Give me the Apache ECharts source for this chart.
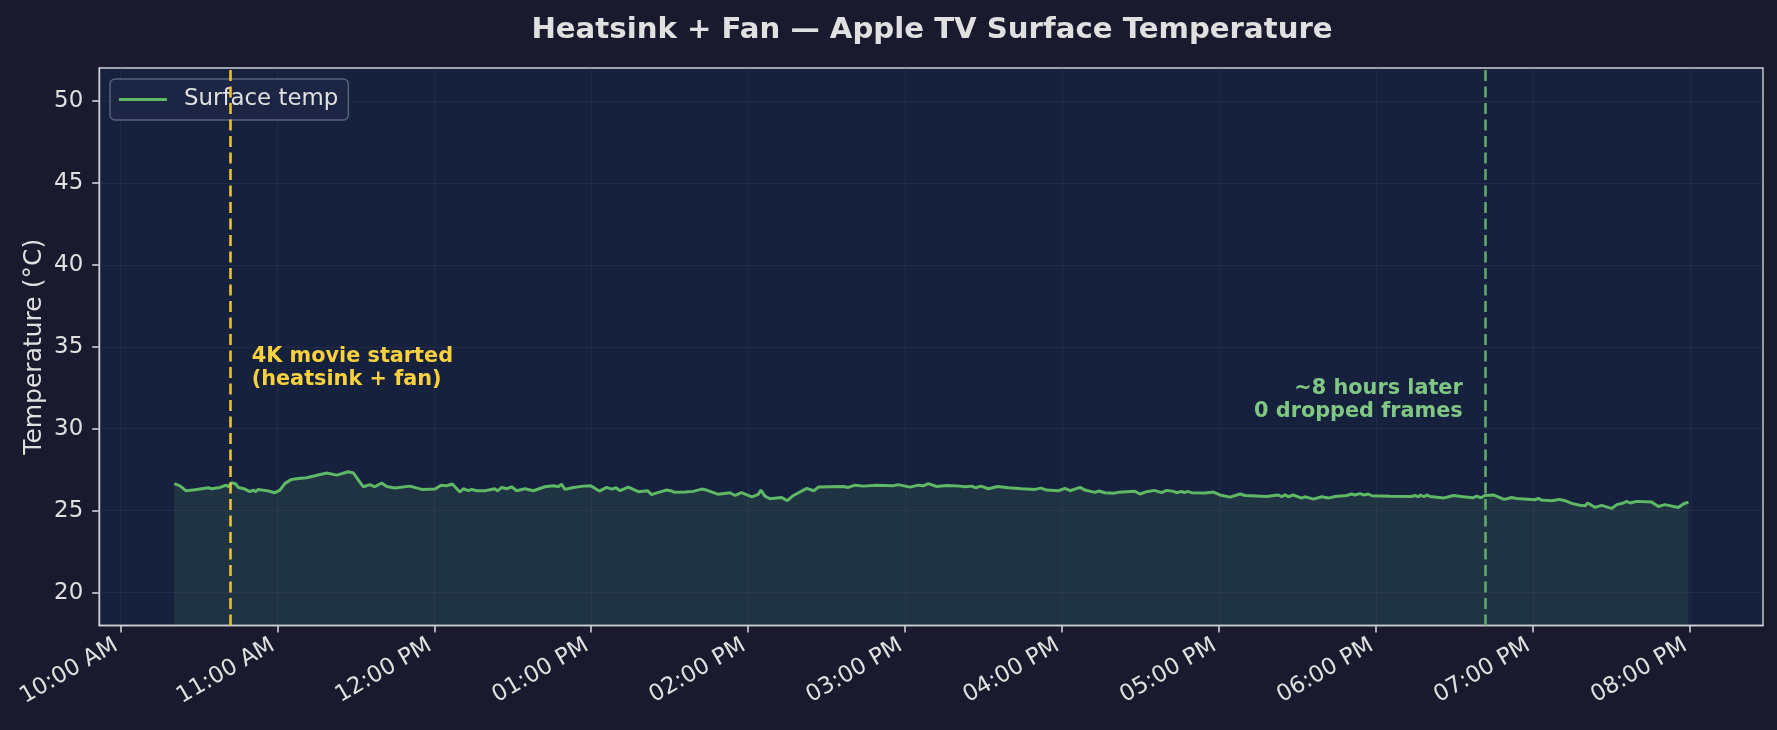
<!DOCTYPE html>
<html>
<head>
<meta charset="utf-8">
<script src="https://cdn.jsdelivr.net/npm/echarts@6/dist/echarts.min.js"></script>
<style>
html,body{margin:0;padding:0;background:#1a1a2e;}
#chart{width:1777px;height:730px;}
</style>
</head>
<body>
<div id="chart"></div>
<script>
// Minutes after 10:00 AM
const sampleMinutes = [
20.6,22.8,25.0,28.5,33.6,34.9,38.1,40.4,41.3,42.5,44.1,45.1,47.6,49.5,50.8,51.7,52.7,54.0,56.6,59.1,
61.0,62.9,65.5,68.0,71.2,74.4,78.9,82.7,87.1,89.1,91.0,92.9,95.4,97.3,99.9,101.8,105.0,110.7,115.2,120.3,
122.6,124.7,126.9,129.8,131.1,133.0,134.3,136.2,139.4,143.2,144.1,145.8,147.7,149.6,151.5,154.7,157.9,162.3,165.5,167.4,
168.7,170.0,173.2,177.0,179.8,183.1,185.9,187.8,189.5,191.0,194.2,198.0,201.5,203.1,205.7,208.9,210.8,212.0,215.9,219.0,
222.2,224.1,228.6,233.1,235.0,237.5,241.4,243.9,244.9,246.4,248.4,252.8,255.0,257.3,262.4,265.2,266.8,276.4,278.3,280.9,
284.0,289.1,295.5,297.4,301.9,305.1,307.0,308.9,312.1,315.9,321.0,322.9,325.5,327.0,329.0,331.8,335.4,339.5,344.6,349.7,
352.0,354.1,358.6,361.1,363.1,366.9,368.8,372.6,374.1,376.4,379.6,381.5,387.9,389.8,392.4,395.3,398.1,400.0,402.6,403.8,
405.7,406.8,408.0,409.6,414.7,417.9,420.4,424.2,428.1,430.0,438.2,442.7,444.0,445.3,446.5,448.4,451.6,452.9,456.1,459.3,
461.8,464.4,468.8,470.7,472.0,473.9,475.5,477.1,478.4,485.4,493.7,495.0,496.2,497.1,498.4,499.4,500.7,505.8,509.6,513.4,
517.0,518.5,520.1,521.7,524.9,529.0,530.6,531.9,533.8,540.8,542.1,543.4,547.2,550.1,552.3,554.9,558.0,560.0,561.0,563.8,
566.3,570.1,572.1,574.6,575.9,577.2,579.7,585.4,588.0,590.5,595.6,597.5,599.5
];
const surfaceTemp = [
26.65,26.52,26.22,26.28,26.40,26.34,26.42,26.56,26.46,26.71,26.63,26.42,26.32,26.16,26.26,26.16,26.30,26.26,26.20,26.10,
26.26,26.67,26.91,26.97,27.01,27.13,27.30,27.17,27.38,27.30,26.87,26.46,26.59,26.46,26.69,26.48,26.38,26.50,26.30,26.32,
26.56,26.52,26.63,26.14,26.34,26.22,26.30,26.22,26.22,26.34,26.20,26.42,26.34,26.46,26.22,26.34,26.22,26.46,26.52,26.46,
26.61,26.30,26.42,26.50,26.52,26.20,26.42,26.32,26.40,26.22,26.44,26.16,26.22,25.98,26.12,26.26,26.20,26.12,26.14,26.18,
26.32,26.26,26.00,26.10,25.93,26.10,25.85,26.00,26.26,25.89,25.73,25.81,25.61,25.93,26.36,26.22,26.44,26.48,26.42,26.56,
26.50,26.56,26.52,26.59,26.44,26.56,26.52,26.65,26.48,26.54,26.50,26.46,26.50,26.40,26.50,26.34,26.48,26.40,26.34,26.30,
26.38,26.26,26.22,26.36,26.22,26.42,26.26,26.12,26.20,26.10,26.06,26.12,26.18,26.02,26.16,26.24,26.10,26.24,26.18,26.10,
26.18,26.10,26.18,26.10,26.08,26.14,25.96,25.83,26.02,25.93,25.87,25.96,25.85,25.98,25.85,25.96,25.77,25.85,25.71,25.85,
25.77,25.87,25.93,26.02,25.96,26.04,25.96,26.02,25.91,25.89,25.87,25.93,25.85,25.96,25.85,25.96,25.87,25.77,25.93,25.85,
25.79,25.89,25.79,25.93,25.96,25.69,25.75,25.81,25.75,25.67,25.75,25.65,25.61,25.69,25.61,25.45,25.33,25.30,25.47,25.20,
25.33,25.14,25.37,25.47,25.57,25.47,25.57,25.53,25.26,25.37,25.20,25.41,25.53
];
const xTickMinutes = [0,60,120,180,240,300,360,420,480,540,600];
const xTickLabels = ['10:00 AM','11:00 AM','12:00 PM','01:00 PM','02:00 PM','03:00 PM','04:00 PM','05:00 PM','06:00 PM','07:00 PM','08:00 PM'];
const yTicks = [20,25,30,35,40,45,50];
const eventMinutes = [42, 522];
const eventLabels = ['4K movie started\n(heatsink + fan)', '~8 hours later\n0 dropped frames'];

const FONT = 'DejaVu Sans';
const seriesData = sampleMinutes.map((m, i) => [m, surfaceTemp[i]]);

const chart = echarts.init(document.getElementById('chart'), null, {renderer: 'canvas'});
chart.setOption({
  backgroundColor: '#1a1a2e',
  animation: false,
  textStyle: {fontFamily: FONT},
  title: {
    text: 'Heatsink + Fan \u2014 Apple TV Surface Temperature',
    left: 927, top: 11, textAlign: 'center',
    textStyle: {color: '#e0e0e0', fontSize: 29.2, fontWeight: 'bold', fontFamily: FONT}
  },
  legend: {
    left: 110, top: 79,
    padding: [9, 10, 9, 9],
    backgroundColor: '#1c2543',
    borderColor: '#596080', borderWidth: 1.5, borderRadius: 5,
    itemWidth: 48, itemHeight: 3,
    data: [{name: 'Surface temp', icon: 'rect', itemStyle: {color: '#5fb865'}}],
    textStyle: {color: '#e0e0e0', fontSize: 22.9, fontFamily: FONT, padding: [0, 0, 0, 12]}
  },
  grid: {
    left: 99.2, right: 14, top: 68, bottom: 104.5,
    containLabel: false, outerBoundsMode: 'none',
    show: true, backgroundColor: '#16213e', borderColor: '#cfcfd6', borderWidth: 1.4
  },
  xAxis: {
    type: 'value', min: -8.1, max: 628.0,
    axisLine: {show: true, onZero: false, lineStyle: {color: '#cfcfd6', width: 1.4}},
    axisTick: {show: true, customValues: xTickMinutes, length: 7, lineStyle: {color: '#cfcfd6', width: 1.6}},
    axisLabel: {
      customValues: xTickMinutes, rotate: 30, margin: 16,
      color: '#e0e0e0', fontSize: 22.9, fontFamily: FONT, padding: [0, 5, 0, 0],
      formatter: v => xTickLabels[Math.round(v / 60)] || ''
    },
    splitLine: {show: true, lineStyle: {color: 'rgba(70,74,110,0.22)', width: 1.2}}
  },
  yAxis: {
    type: 'value', min: 18, max: 52,
    name: 'Temperature (\u00B0C)', nameLocation: 'middle', nameGap: 52, nameMoveOverlap: false,
    nameTextStyle: {color: '#e0e0e0', fontSize: 25, fontFamily: FONT},
    axisLine: {show: true, onZero: false, lineStyle: {color: '#cfcfd6', width: 1.4}},
    axisTick: {show: true, customValues: yTicks, length: 7, lineStyle: {color: '#cfcfd6', width: 1.6}},
    axisLabel: {customValues: yTicks, margin: 16, color: '#e0e0e0', fontSize: 22.9, fontFamily: FONT},
    splitLine: {show: true, lineStyle: {color: 'rgba(70,74,110,0.22)', width: 1.2}}
  },
  series: [{
    name: 'Surface temp',
    type: 'line',
    data: seriesData,
    symbol: 'none',
    lineStyle: {color: '#5fb865', width: 3},
    itemStyle: {color: '#5fb865'},
    areaStyle: {color: 'rgba(102,187,106,0.18)', origin: 'start'},
    z: 3,
    markLine: {
      silent: true, symbol: ['none', 'none'],
      label: {show: false},
      data: [
        {xAxis: eventMinutes[0], lineStyle: {color: '#e8c13a', width: 2.6, type: [11, 5.5]}},
        {xAxis: eventMinutes[1], lineStyle: {color: '#5fa86a', width: 2.6, type: [11, 5.5]}}
      ]
    },
    markPoint: {
      silent: true,
      data: [
        {coord: [eventMinutes[0] + 8.2, 33.7], symbol: 'circle', symbolSize: 0,
         label: {show: true, position: 'inside', align: 'left', verticalAlign: 'middle',
                 formatter: eventLabels[0], color: '#f9d13e', fontSize: 20.8, fontWeight: 'bold',
                 fontFamily: FONT, lineHeight: 23}},
        {coord: [eventMinutes[1] - 8.8, 31.72], symbol: 'circle', symbolSize: 0,
         label: {show: true, position: 'inside', align: 'right', verticalAlign: 'middle',
                 formatter: eventLabels[1], color: '#81c784', fontSize: 20.8, fontWeight: 'bold',
                 fontFamily: FONT, lineHeight: 23}}
      ]
    }
  }]
});
</script>
</body>
</html>
